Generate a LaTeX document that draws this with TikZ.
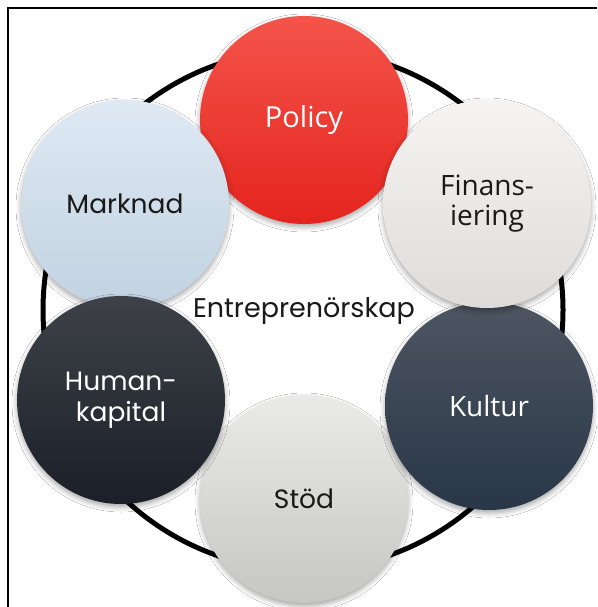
\documentclass[tikz,border=0pt]{standalone}
\usepackage{fontspec}
\setmainfont{Poppins}
\newfontfamily\altfont{Open Sans}
\usetikzlibrary{shadows.blur}
\definecolor{polTop}{RGB}{244,84,74}
\definecolor{polBot}{RGB}{228,36,30}
\definecolor{mrkTop}{RGB}{222,233,243}
\definecolor{mrkBot}{RGB}{194,210,225}
\definecolor{finTop}{RGB}{245,244,242}
\definecolor{finBot}{RGB}{222,220,218}
\definecolor{kulTop}{RGB}{78,86,98}
\definecolor{kulBot}{RGB}{40,54,71}
\definecolor{humTop}{RGB}{62,66,72}
\definecolor{humBot}{RGB}{26,31,40}
\definecolor{stoTop}{RGB}{234,234,232}
\definecolor{stoBot}{RGB}{198,198,196}
\tikzset{
  bubble/.style={circle, minimum size=208pt, inner sep=0pt, align=center,
    blur shadow={shadow xshift=0pt, shadow yshift=-3pt,
      shadow blur radius=5pt, shadow opacity=35}},
  fill2/.style 2 args={top color=#1, bottom color=#2},
  darktext/.style={text=black!90},
  lighttext/.style={text=white},
  ring/.style={line width=5pt, black}
}
\begin{document}
\begin{tikzpicture}[x=1pt, y=-1pt]
  \useasboundingbox (0,0) rectangle (597,607);
  \fill[white] (0,0) rectangle (597,607);
  % frame
  \draw[line width=2pt] (8,607) -- (8,8) -- (597,8);
  % outer ring
  \node[circle, draw, ring, minimum size=520pt, inner sep=0pt] (ring) at (303,310) {};
  % the six factors, drawn in stacking order
  \node[bubble, fill2={polTop}{polBot}, lighttext, font=\altfont\fontsize{29}{31}\selectfont]
    (policy) at (304,120) {Policy};
  \node[bubble, fill2={stoTop}{stoBot}, darktext, font=\fontsize{26.5}{31}\selectfont]
    (stod) at (304,499) {Stöd};
  \node[bubble, fill2={kulTop}{kulBot}, lighttext, font=\altfont\fontsize{28}{31}\selectfont]
    (kultur) at (489,406) {Kultur};
  \node[bubble, fill2={finTop}{finBot}, darktext, font=\altfont\fontsize{28}{30}\selectfont]
    (finans) at (487,204) {Finans-\\iering};
  \node[bubble, fill2={mrkTop}{mrkBot}, darktext, font=\fontsize{26.5}{31}\selectfont]
    (marknad) at (125,204) {Marknad};
  \node[bubble, fill2={humTop}{humBot}, lighttext, font=\fontsize{26.5}{31}\selectfont]
    (human) at (121,400) {Human-\\kapital};
  % centre label
  \node[darktext, font=\fontsize{27}{30}\selectfont] (entre) at (304,311) {Entreprenörskap};
\end{tikzpicture}
\end{document}
